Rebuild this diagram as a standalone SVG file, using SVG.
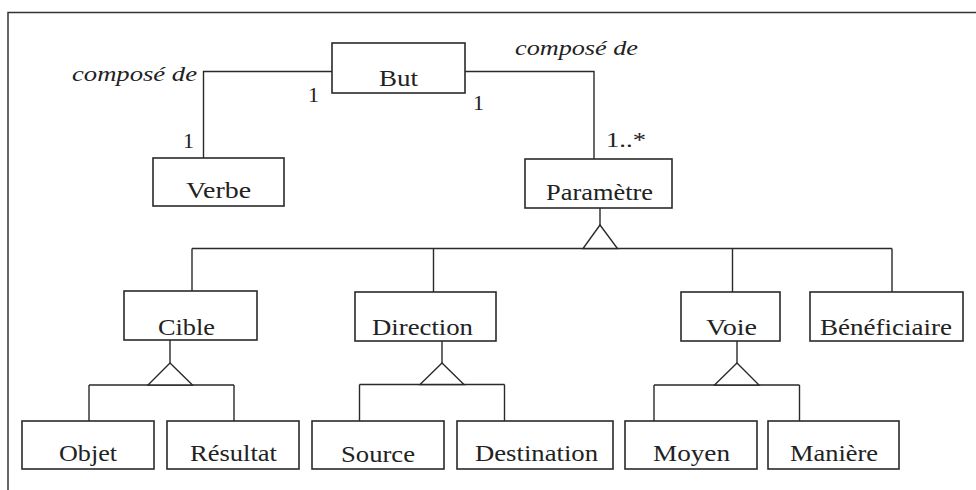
<svg xmlns="http://www.w3.org/2000/svg" width="976" height="490" viewBox="0 0 976 490">
<style>
  .box { fill: #ffffff; stroke: #2a2a2a; stroke-width: 1.6; }
  .ln { fill: none; stroke: #2a2a2a; stroke-width: 1.4; }
  .tri { fill: #ffffff; stroke: #2a2a2a; stroke-width: 1.4; stroke-linejoin: miter; }
  text { font-family: 'Liberation Serif', 'Times New Roman', Times, serif; fill: #222222; }
  .t { font-size: 24px; }
  .lbl { font-size: 22px; }
  .it { font-style: italic; }
</style>
<rect x="0" y="0" width="976" height="490" fill="#ffffff"/>
<path d="M8,490 V12.5 H976" fill="none" stroke="#333333" stroke-width="1.5"/>

<g id="connectors">
  <path class="ln" d="M332,71.5 H203.5 V158"/>
  <path class="ln" d="M465,71.5 H594 V159"/>
  <path class="ln" d="M600,208 V225"/>
  <path class="ln" d="M192,248.5 H892 M192,248.5 V291 M433.5,248.5 V292 M732.5,248.5 V292 M892,248.5 V292"/>
  <polygon class="tri" points="600,225 583,248.5 617.5,248.5"/>
  <path class="ln" d="M170,340 V363 M89,385 H234 M89,385 V421 M234,385 V421"/>
  <polygon class="tri" points="170,363 148,385 192.5,385"/>
  <path class="ln" d="M442,341 V363 M359.5,384.5 H504.5 M359.5,384.5 V421 M504.5,384.5 V421"/>
  <polygon class="tri" points="442,363 420,384.5 464,384.5"/>
  <path class="ln" d="M737,341 V363 M654,385 H799.5 M654,385 V421 M799.5,385 V421"/>
  <polygon class="tri" points="737,363 714.5,385 759,385"/>
  <text class="lbl it" x="72" y="81" textLength="125" lengthAdjust="spacingAndGlyphs">composé de</text>
  <text class="lbl it" x="515" y="55" textLength="123" lengthAdjust="spacingAndGlyphs">composé de</text>
  <text class="lbl" x="308" y="102">1</text>
  <text class="lbl" x="183" y="148">1</text>
  <text class="lbl" x="473" y="110">1</text>
  <text class="lbl" x="606" y="147" textLength="40" lengthAdjust="spacingAndGlyphs">1..*</text>
</g>

<g id="but"><rect class="box" x="332" y="43" width="133" height="50"/><text class="t" x="379" y="86" textLength="39" lengthAdjust="spacingAndGlyphs">But</text></g>
<g id="verbe"><rect class="box" x="153" y="158" width="131" height="48"/><text class="t" x="186" y="198" textLength="65" lengthAdjust="spacingAndGlyphs">Verbe</text></g>
<g id="parametre"><rect class="box" x="525" y="159" width="147" height="49"/><text class="t" x="546" y="200" textLength="107" lengthAdjust="spacingAndGlyphs">Paramètre</text></g>
<g id="cible"><rect class="box" x="124" y="291" width="133" height="49"/><text class="t" x="158" y="335" textLength="57" lengthAdjust="spacingAndGlyphs">Cible</text></g>
<g id="direction"><rect class="box" x="355" y="292" width="141" height="49"/><text class="t" x="372" y="335" textLength="101" lengthAdjust="spacingAndGlyphs">Direction</text></g>
<g id="voie"><rect class="box" x="681" y="292" width="99" height="49"/><text class="t" x="706" y="334.5" textLength="51" lengthAdjust="spacingAndGlyphs">Voie</text></g>
<g id="beneficiaire"><rect class="box" x="810" y="292" width="153" height="49"/><text class="t" x="820" y="334.5" textLength="132" lengthAdjust="spacingAndGlyphs">Bénéficiaire</text></g>
<g id="objet"><rect class="box" x="22" y="421" width="132" height="48"/><text class="t" x="59" y="461" textLength="58" lengthAdjust="spacingAndGlyphs">Objet</text></g>
<g id="resultat"><rect class="box" x="167" y="421" width="132" height="48"/><text class="t" x="190" y="461" textLength="87" lengthAdjust="spacingAndGlyphs">Résultat</text></g>
<g id="source"><rect class="box" x="312" y="421" width="132" height="48"/><text class="t" x="341" y="461.5" textLength="74" lengthAdjust="spacingAndGlyphs">Source</text></g>
<g id="destination"><rect class="box" x="457" y="421" width="156" height="48"/><text class="t" x="475" y="461" textLength="123" lengthAdjust="spacingAndGlyphs">Destination</text></g>
<g id="moyen"><rect class="box" x="625" y="421" width="132" height="48"/><text class="t" x="653" y="461" textLength="77" lengthAdjust="spacingAndGlyphs">Moyen</text></g>
<g id="maniere"><rect class="box" x="768" y="421" width="131" height="48"/><text class="t" x="790" y="461" textLength="88" lengthAdjust="spacingAndGlyphs">Manière</text></g>
</svg>
